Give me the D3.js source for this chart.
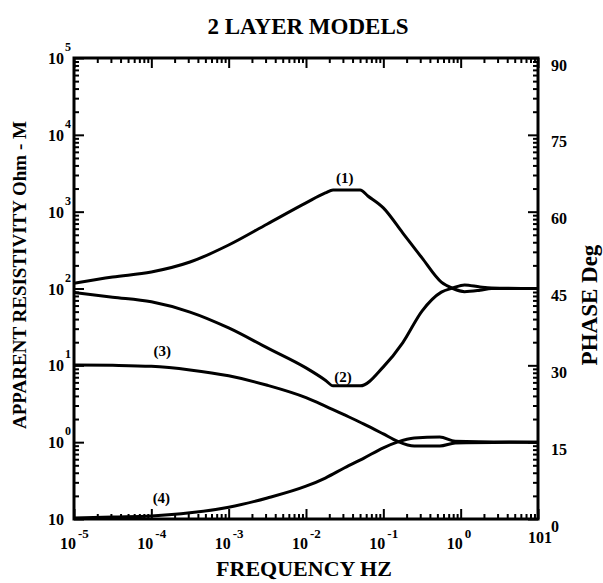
<!DOCTYPE html>
<html>
<head>
    <title>2 Layer Models</title>
    <script src="https://cdnjs.cloudflare.com/ajax/libs/d3/7.8.5/d3.min.js"></script>
    <style>
        body {
            margin: 0;
            background-color: white;
        }
        svg text {
            font-family: "Liberation Serif", "Times New Roman", serif;
            font-weight: bold;
            fill: black;
        }
    </style>
</head>
<body>
    <div id="chart"></div>

    <script>
        // curve (1): apparent resistivity, log10 of frequency vs Ohm-m
        const logF1 = [-5, -4.5, -4, -3.5, -3, -2.5, -2, -1.75, -1.65, -1.3, -1.2, -1, -0.75, -0.5, -0.25, -0.1, 0.05, 0.25, 0.4, 1];
        const rho1 = [117, 141, 164, 221, 368, 691, 1300, 1750, 1915, 1915, 1600, 1120, 530, 250, 121, 100, 91, 95, 100, 100];

        // curve (2): phase in degrees
        const logF2 = [-5, -4.5, -4, -3.5, -3, -2.5, -2, -1.75, -1.65, -1.3, -1, -0.75, -0.5, -0.25, -0.1, 0.05, 0.25, 0.4, 1];
        const phase2 = [44.2, 43.3, 42.4, 40.4, 37.3, 33.4, 29.5, 27.1, 26.0, 26.0, 29.7, 34.4, 40.6, 44.3, 45.1, 45.7, 45.3, 45.1, 45];

        // curve (3): apparent resistivity
        const logF3 = [-5, -4.5, -4, -3.5, -3, -2.5, -2, -1.75, -1.5, -1.25, -1, -0.82, -0.6, -0.27, -0.07, 1];
        const rho3 = [10.1, 10, 9.7, 8.7, 7.3, 5.5, 3.8, 2.95, 2.26, 1.72, 1.28, 1.03, 0.89, 0.89, 0.975, 1.0];

        // curve (4): phase in degrees
        const logF4 = [-5, -4.5, -4, -3.5, -3, -2.5, -2, -1.75, -1.5, -1.25, -1, -0.82, -0.6, -0.27, -0.07, 1];
        const phase4 = [0.2, 0.4, 0.6, 1.2, 2.3, 4.1, 6.4, 8.0, 10.0, 11.9, 13.9, 15.0, 15.8, 16.0, 15.2, 15];

        // curve labels: [text, log10 f, value, axis]
        const curveLabels = [
            ['(1)', -1.5, 2360, 'rho'],
            ['(2)', -1.52, 26.7, 'phase'],
            ['(3)', -3.86, 13.2, 'rho'],
            ['(4)', -3.87, 3.1, 'phase']
        ];

        // tick labels
        const xDecades = [1e-5, 1e-4, 1e-3, 1e-2, 1e-1, 1, 10];
        const xTickBase = ['10', '10', '10', '10', '10', '10', '101'];
        const xTickExp = ['-5', '-4', '-3', '-2', '-1', '0', ''];
        const yDecades = [0.1, 1, 10, 100, 1e3, 1e4, 1e5];
        const yTickExp = ['', '0', '1', '2', '3', '4', '5'];
        const phaseTicks = [0, 15, 30, 45, 60, 75, 90];

        function drawChart() {
            const W = 603, H = 583;
            const left = 74, right = 538, top = 58, bottom = 519;

            const svg = d3.select('#chart')
                .append('svg')
                    .attr('width', W)
                    .attr('height', H);

            const x = d3.scaleLog().domain([1e-5, 10]).range([left, right]);
            const yRho = d3.scaleLog().domain([0.1, 1e5]).range([bottom, top]);
            const yPhase = d3.scaleLinear().domain([0, 90]).range([bottom, top]);

            const isDecade = v => Math.abs(Math.log10(v) - Math.round(Math.log10(v))) < 1e-6;
            const xMinor = x.ticks().filter(v => !isDecade(v));
            const yMinor = yRho.ticks().filter(v => !isDecade(v));

            // tick marks, all pointing inward
            function ticks(axis, tx, ty) {
                const g = svg.append('g')
                    .attr('transform', `translate(${tx},${ty})`)
                    .call(axis.tickFormat('').tickSizeOuter(0));
                g.select('.domain').remove();
                g.selectAll('line').attr('stroke', 'black').attr('stroke-width', 2);
                return g;
            }
            ticks(d3.axisTop(x).tickValues(xMinor).tickSize(5), 0, bottom);
            ticks(d3.axisTop(x).tickValues(xDecades).tickSize(10), 0, bottom);
            ticks(d3.axisBottom(x).tickValues(xMinor).tickSize(5), 0, top);
            ticks(d3.axisBottom(x).tickValues(xDecades).tickSize(10), 0, top);
            ticks(d3.axisRight(yRho).tickValues(yMinor).tickSize(5), left, 0);
            ticks(d3.axisRight(yRho).tickValues(yDecades).tickSize(10), left, 0);
            ticks(d3.axisLeft(yRho).tickValues(yMinor).tickSize(5), right, 0);
            ticks(d3.axisLeft(yRho).tickValues(yDecades).tickSize(10), right, 0);

            // frame
            svg.append('rect')
                .attr('x', left)
                .attr('y', top)
                .attr('width', right - left)
                .attr('height', bottom - top)
                .attr('fill', 'none')
                .attr('stroke', 'black')
                .attr('stroke-width', 3);

            // right phase labels
            const gr = svg.append('g')
                .attr('transform', `translate(${right},0)`)
                .call(d3.axisRight(yPhase).tickValues(phaseTicks).tickSize(0).tickPadding(13));
            gr.select('.domain').remove();
            gr.selectAll('text')
                .style('font-size', '16px')
                .attr('dy', '0.75em')
                .attr('font-family', null);

            // left decade labels
            const yl = svg.append('g');
            yDecades.forEach((v, i) => {
                yl.append('text')
                    .attr('x', left - 10)
                    .attr('y', yRho(v) + 6)
                    .attr('text-anchor', 'end')
                    .style('font-size', '16px')
                    .text('10');
                if (yTickExp[i]) {
                    yl.append('text')
                        .attr('x', left - 9)
                        .attr('y', yRho(v) - 7)
                        .style('font-size', '12px')
                        .text(yTickExp[i]);
                }
            });

            // bottom decade labels
            const xl = svg.append('g');
            xDecades.forEach((v, i) => {
                if (xTickExp[i]) {
                    xl.append('text')
                        .attr('x', x(v) + 2)
                        .attr('y', 549)
                        .attr('text-anchor', 'end')
                        .style('font-size', '16px')
                        .text(xTickBase[i]);
                    xl.append('text')
                        .attr('x', x(v) + 4)
                        .attr('y', 538)
                        .style('font-size', '13px')
                        .text(xTickExp[i]);
                } else {
                    xl.append('text')
                        .attr('x', x(v) + 2)
                        .attr('y', 543)
                        .attr('text-anchor', 'middle')
                        .style('font-size', '16px')
                        .text(xTickBase[i]);
                }
            });

            // curves
            const series = [
                { f: logF1, v: rho1, y: yRho },
                { f: logF2, v: phase2, y: yPhase },
                { f: logF3, v: rho3, y: yRho },
                { f: logF4, v: phase4, y: yPhase }
            ];
            series.forEach(s => {
                const pts = s.f.map((lf, i) => [Math.pow(10, lf), s.v[i]]);
                const line = d3.line()
                    .x(d => x(d[0]))
                    .y(d => s.y(d[1]))
                    .curve(d3.curveMonotoneX);
                svg.append('path')
                    .datum(pts)
                    .attr('fill', 'none')
                    .attr('stroke', 'black')
                    .attr('stroke-width', 3)
                    .attr('stroke-linejoin', 'round')
                    .attr('d', line);
            });

            // curve labels
            curveLabels.forEach(l => {
                const yy = l[3] === 'rho' ? yRho(l[2]) : yPhase(l[2]);
                svg.append('text')
                    .attr('x', x(Math.pow(10, l[1])))
                    .attr('y', yy)
                    .attr('text-anchor', 'middle')
                    .style('font-size', '15px')
                    .text(l[0]);
            });

            // titles
            svg.append('text')
                .attr('x', 308)
                .attr('y', 34)
                .attr('text-anchor', 'middle')
                .style('font-size', '23px')
                .text('2 LAYER MODELS');

            svg.append('text')
                .attr('x', 304)
                .attr('y', 576)
                .attr('text-anchor', 'middle')
                .style('font-size', '22px')
                .text('FREQUENCY HZ');

            svg.append('text')
                .attr('transform', 'rotate(-90)')
                .attr('x', -275)
                .attr('y', 26)
                .attr('text-anchor', 'middle')
                .style('font-size', '19px')
                .text('APPARENT RESISTIVITY Ohm - M');

            svg.append('text')
                .attr('transform', 'rotate(-90)')
                .attr('x', -305)
                .attr('y', 597)
                .attr('text-anchor', 'middle')
                .style('font-size', '23px')
                .text('PHASE Deg');
        }

        drawChart();
    </script>
</body>
</html>
